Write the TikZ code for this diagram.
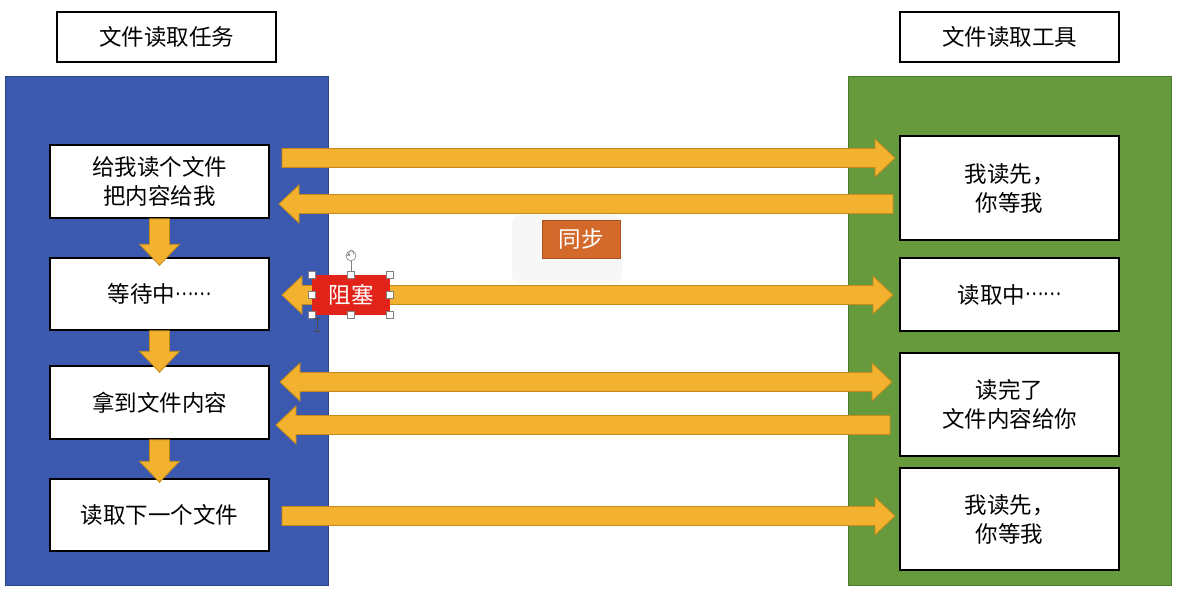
\documentclass[tikz,border=0pt]{standalone}
\usepackage{fontspec}
\newfontfamily\cjk{Noto Sans CJK SC}
\usetikzlibrary{calc}
\definecolor{panelblue}{HTML}{3B59AE}
\definecolor{panelblueedge}{HTML}{2C4689}
\definecolor{panelgreen}{HTML}{67993D}
\definecolor{panelgreenedge}{HTML}{4A7A2B}
\definecolor{arrowfill}{HTML}{F2B12E}
\definecolor{arrowedge}{HTML}{C48A1C}
\definecolor{blockred}{HTML}{E2231A}
\definecolor{syncorange}{HTML}{D4692C}
\definecolor{syncedge}{HTML}{A9521F}
\newcommand\myDots{\raisebox{0.33em}{\scalebox{0.75}[1]{……}}}
\newcommand\myArrR[2]{\draw[fat] let \p1=(#1),\p2=(#2) in
  (\x1,\y1+9.5pt) -- (\x2-20pt,\y1+9.5pt) -- (\x2-20pt,\y1+19pt) -- (\x2,\y1)
  -- (\x2-20pt,\y1-19pt) -- (\x2-20pt,\y1-9.5pt) -- (\x1,\y1-9.5pt) -- cycle;}
\newcommand\myArrL[2]{\draw[fat] let \p1=(#1),\p2=(#2) in
  (\x1,\y1+9.5pt) -- (\x2+20pt,\y1+9.5pt) -- (\x2+20pt,\y1+19pt) -- (\x2,\y1)
  -- (\x2+20pt,\y1-19pt) -- (\x2+20pt,\y1-9.5pt) -- (\x1,\y1-9.5pt) -- cycle;}
\newcommand\myArrLR[2]{\draw[fat] let \p1=(#1),\p2=(#2) in
  (\x1,\y1) -- (\x1+20pt,\y1+19pt) -- (\x1+20pt,\y1+9.5pt) -- (\x2-20pt,\y1+9.5pt)
  -- (\x2-20pt,\y1+19pt) -- (\x2,\y1) -- (\x2-20pt,\y1-19pt) -- (\x2-20pt,\y1-9.5pt)
  -- (\x1+20pt,\y1-9.5pt) -- (\x1+20pt,\y1-19pt) -- cycle;}
\newcommand\myArrD[2]{\draw[fat] let \p1=(#1),\p2=(#2) in
  (\x1-10pt,\y1) -- (\x1-10pt,\y2+21pt) -- (\x1-20pt,\y2+21pt) -- (\x1,\y2)
  -- (\x1+20pt,\y2+21pt) -- (\x1+10pt,\y2+21pt) -- (\x1+10pt,\y1) -- cycle;}
\begin{document}
\begin{tikzpicture}[x=1pt,y=-1pt,
  txt/.style={font=\cjk\fontsize{22.5}{29}\selectfont},
  box/.style={txt,draw=black,line width=1.5pt,fill=white,minimum width=219pt,align=center,inner sep=0pt},
  panel/.style={line width=1pt,minimum width=323pt,minimum height=509pt,inner sep=0pt},
  fat/.style={fill=arrowfill,draw=arrowedge,line width=0.8pt,line join=miter},
  handle/.style={draw=gray,fill=white,line width=0.6pt,minimum size=7pt,inner sep=0pt}]
\useasboundingbox[fill=white] (0,0) rectangle (1184,590);
% titles
\node[box,minimum height=50pt] (T1) at (166.5,37) {文件读取任务};
\node[box,minimum height=50pt] (T2) at (1009.5,37) {文件读取工具};
% panels
\node[panel,fill=panelblue,draw=panelblueedge] (P1) at (166.5,330.5) {};
\node[panel,fill=panelgreen,draw=panelgreenedge] (P2) at (1009.5,330.5) {};
% left boxes
\node[box,minimum height=73pt] (L1) at (159.5,181.5) {给我读个文件\\把内容给我};
\node[box,minimum height=72pt] (L2) at (159.5,294) {等待中\myDots};
\node[box,minimum height=73pt] (L3) at (159.5,402.5) {拿到文件内容};
\node[box,minimum height=72pt] (L4) at (159.5,515) {读取下一个文件};
% right boxes
\node[box,minimum height=104pt] (R1) at (1009.5,188) {我读先，\\你等我};
\node[box,minimum height=73pt] (R2) at (1009.5,294.5) {读取中\myDots};
\node[box,minimum height=103pt] (R3) at (1009.5,404.5) {读完了\\文件内容给你};
\node[box,minimum height=102pt] (R4) at (1009.5,519) {我读先，\\你等我};
% down arrows
\myArrD{L1.south}{$(L2.north)+(0,8)$}
\myArrD{L2.south}{$(L3.north)+(0,7)$}
\myArrD{L3.south}{$(L4.north)+(0,4)$}
% horizontal arrows
\coordinate (a1s) at (282,158);  \coordinate (a1e) at (895,158);
\coordinate (a2s) at (893,204);  \coordinate (a2e) at (279,204);
\coordinate (a3s) at (282,295);  \coordinate (a3e) at (893,295);
\coordinate (a4s) at (280,382);  \coordinate (a4e) at (892,382);
\coordinate (a5s) at (890,425);  \coordinate (a5e) at (276,425);
\coordinate (a6s) at (282,516);  \coordinate (a6e) at (895,516);
\myArrR{a1s}{a1e}
\myArrL{a2s}{a2e}
\myArrLR{a3s}{a3e}
\myArrLR{a4s}{a4e}
\myArrL{a5s}{a5e}
\myArrR{a6s}{a6e}
% sync label
\node[fill=black!3,rounded corners=8pt,minimum width=110pt,minimum height=68pt] (SB) at (567,249) {};
\node[txt,fill=syncorange,draw=syncedge,line width=0.8pt,text=white,minimum width=78pt,minimum height=38pt,inner sep=0pt] (S) at (581,239) {同步};
% blocking label with selection handles
\node[txt,fill=blockred,text=white,minimum width=78pt,minimum height=40pt,inner sep=0pt] (Z) at (351,295) {阻塞};
\draw[gray,line width=0.6pt] (Z.north) -- ++(0,-14);
\node[circle,draw=gray,fill=white,line width=0.6pt,minimum size=10pt,inner sep=0pt] (ZR) at ($(Z.north)+(0,-19)$) {};
\draw[gray,line width=0.6pt,->,>=stealth] ($(ZR.center)+(2.5,-1.5)$) arc (-30:250:2.6pt);
\foreach \a in {north west,north,north east,west,east,south west,south,south east}
  \node[handle] at (Z.\a) {};
\draw[black!70,line width=0.9pt] (317,318) -- (317,331) (314,318) -- (320,318) (314,331) -- (320,331);
\end{tikzpicture}
\end{document}
